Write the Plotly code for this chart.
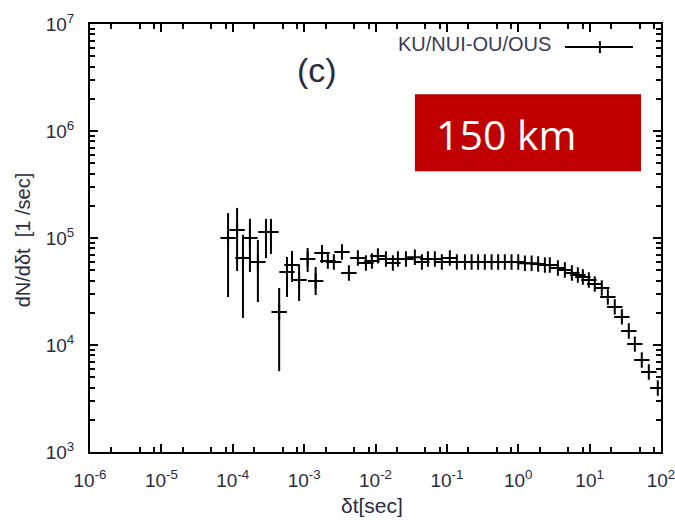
import plotly.graph_objects as go

# ---- data ----
dt_sec = [8.6e-5, 1.15e-4, 1.39e-4, 1.74e-4, 2.25e-4, 2.92e-4, 3.43e-4, 4.47e-4,
          5.75e-4, 6.76e-4, 8.5e-4, 1.12e-3, 1.45e-3, 1.78e-3, 2.15e-3, 2.61e-3,
          3.39e-3, 4.24e-3, 5.66e-3, 7.34e-3, 8.9e-3, 1.08e-2, 1.40e-2, 1.75e-2,
          2.06e-2, 2.67e-2, 3.56e-2, 4.47e-2, 5.42e-2, 6.79e-2, 8.5e-2, 0.110,
          0.138, 0.179, 0.222, 0.274, 0.340, 0.423, 0.523, 0.649, 0.805, 1.0,
          1.24, 1.54, 1.90, 2.36, 2.77, 3.59, 4.50, 5.64, 6.84, 8.04, 9.75,
          11.8, 14.8, 18.0, 22.5, 28.3, 35.4, 43.0, 53.8, 67.5, 90.2]
dN_ddt = [1.0e5, 1.19e5, 6.5e4, 1.0e5, 5.97e4, 1.14e5, 1.14e5, 2.03e4,
          4.81e4, 5.6e4, 4.05e4, 6.37e4, 3.96e4, 7.25e4, 6.1e4, 5.97e4,
          7.4e4, 4.71e4, 6.5e4, 5.84e4, 6.1e4, 6.8e4, 6.37e4, 5.84e4,
          6.37e4, 6.37e4, 6.6e4, 5.97e4, 6.37e4, 6.37e4, 5.97e4, 6.5e4,
          5.97e4, 5.97e4, 5.97e4, 5.97e4, 5.97e4, 5.97e4, 5.97e4, 5.97e4, 5.97e4, 5.97e4,
          5.8e4, 5.8e4, 5.71e4, 5.6e4, 5.6e4, 5.25e4, 5.02e4, 4.71e4, 4.51e4, 4.32e4, 4.05e4,
          3.72e4, 3.41e4, 2.81e4, 2.27e4, 1.83e4, 1.35e4, 1.02e4, 7.24e3, 5.6e3, 3.96e3]
err_hi = [1.71e5, 1.91e5, 1.07e5, 1.51e5, 9.57e4, 1.51e5, 1.51e5, 3.41e4,
          6.64e4, 7.57e4, 5.6e4, 8.07e4, 5.36e4, 8.6e4]
err_lo = [2.81e4, 4.92e4, 1.79e4, 4.81e4, 2.52e4, 6.5e4, 7.1e4, 5.7e3,
          2.81e4, 3.88e4, 2.58e4, 4.81e4, 2.93e4, 5.84e4]

series_name = "KU/NUI-OU/OUS"
panel_label = "(c)"
distance_label = "150 km"
x_title = "δt[sec]"
y_title = "dN/dδt  [1 /sec]"
x_tick_exp = [-6, -5, -4, -3, -2, -1, 0, 1, 2]
y_tick_exp = [3, 4, 5, 6, 7]

# error arrays (upper/lower offsets); zero where bars are hidden by the marker
n = len(dt_sec)
plus = [0.0] * n
minus = [0.0] * n
for i in range(len(err_hi)):
    plus[i] = err_hi[i] - dN_ddt[i]
    minus[i] = dN_ddt[i] - err_lo[i]

fig = go.Figure()
fig.add_trace(go.Scatter(
    x=dt_sec, y=dN_ddt, mode="markers", name=series_name, showlegend=False,
    marker=dict(symbol="cross-thin", size=11, line=dict(width=2, color="black"), color="black"),
    error_y=dict(type="data", array=plus, arrayminus=minus, symmetric=False,
                 width=0, thickness=2, color="black"),
))

FONT = "Liberation Sans, Arial, sans-serif"
TXT = "#2b2b40"
tickfont = dict(family=FONT, size=19, color=TXT)

x_minor = [m * 10 ** e for e in range(-6, 2) for m in (2, 5, 8)]

fig.update_xaxes(
    type="log", range=[-6, 2], automargin=False, ticklabeloverflow="allow",
    tickvals=[10 ** e for e in x_tick_exp],
    ticktext=[f"10<sup>{e}</sup>" for e in x_tick_exp],
    ticks="inside", ticklen=8, tickwidth=1.5, tickcolor="black",
    minor=dict(tickvals=x_minor, ticks="inside", ticklen=5, tickwidth=1.5, tickcolor="black", showgrid=False),
    showline=True, linewidth=2, linecolor="black", mirror="ticks",
    showgrid=False, zeroline=False, tickfont=tickfont, ticklabelstandoff=10,
)
fig.update_yaxes(
    type="log", range=[3, 7], automargin=False, ticklabeloverflow="allow",
    tickvals=[10 ** e for e in y_tick_exp],
    ticktext=[f"10<sup>{e}</sup>" for e in y_tick_exp],
    ticks="inside", ticklen=8, tickwidth=1.5, tickcolor="black",
    minor=dict(dtick="D1", ticks="inside", ticklen=5, tickwidth=1.5, tickcolor="black", showgrid=False),
    showline=True, linewidth=2, linecolor="black", mirror="ticks",
    showgrid=False, zeroline=False, tickfont=tickfont, ticklabelstandoff=10,
)

# axis titles
fig.add_annotation(x=-0.117, y=0.495, xref="paper", yref="paper", text=y_title, textangle=-90,
                   showarrow=False, xanchor="center", yanchor="middle",
                   font=dict(family=FONT, size=20, color=TXT))
fig.add_annotation(x=0.494, y=-0.124, xref="paper", yref="paper", text=x_title,
                   showarrow=False, xanchor="center", yanchor="middle",
                   font=dict(family=FONT, size=21, color=TXT))

# legend (text, line with cross) at top right
fig.add_annotation(x=0.810, y=0.953, xref="paper", yref="paper", text=series_name,
                   showarrow=False, xanchor="right", yanchor="middle",
                   font=dict(family=FONT, size=20, color="#3a3a55"))
fig.add_shape(type="line", xref="paper", yref="paper", x0=0.832, x1=0.951, y0=0.946, y1=0.946,
              line=dict(color="black", width=2))
fig.add_shape(type="line", xref="paper", yref="paper", x0=0.893, x1=0.893, y0=0.932, y1=0.960,
              line=dict(color="black", width=2))

# panel label
fig.add_annotation(x=0.397, y=0.893, xref="paper", yref="paper", text=panel_label,
                   showarrow=False, xanchor="center", yanchor="middle",
                   font=dict(family=FONT, size=34, color=TXT))

# red box with distance label
fig.add_shape(type="rect", xref="paper", yref="paper", x0=0.569, x1=0.965, y0=0.656, y1=0.836,
              fillcolor="#C00000", line=dict(width=0))
fig.add_annotation(x=0.603, y=0.742, xref="paper", yref="paper", text=distance_label,
                   showarrow=False, xanchor="left", yanchor="middle",
                   font=dict(family="Open Sans, sans-serif", size=41, color="white"))

fig.update_layout(
    width=675, height=520,
    margin=dict(l=90, r=14, t=24, b=68),
    paper_bgcolor="white", plot_bgcolor="white",
)

fig.write_html("out.html", config={"displayModeBar": False},
               post_script="document.body.style.margin='0px';")
